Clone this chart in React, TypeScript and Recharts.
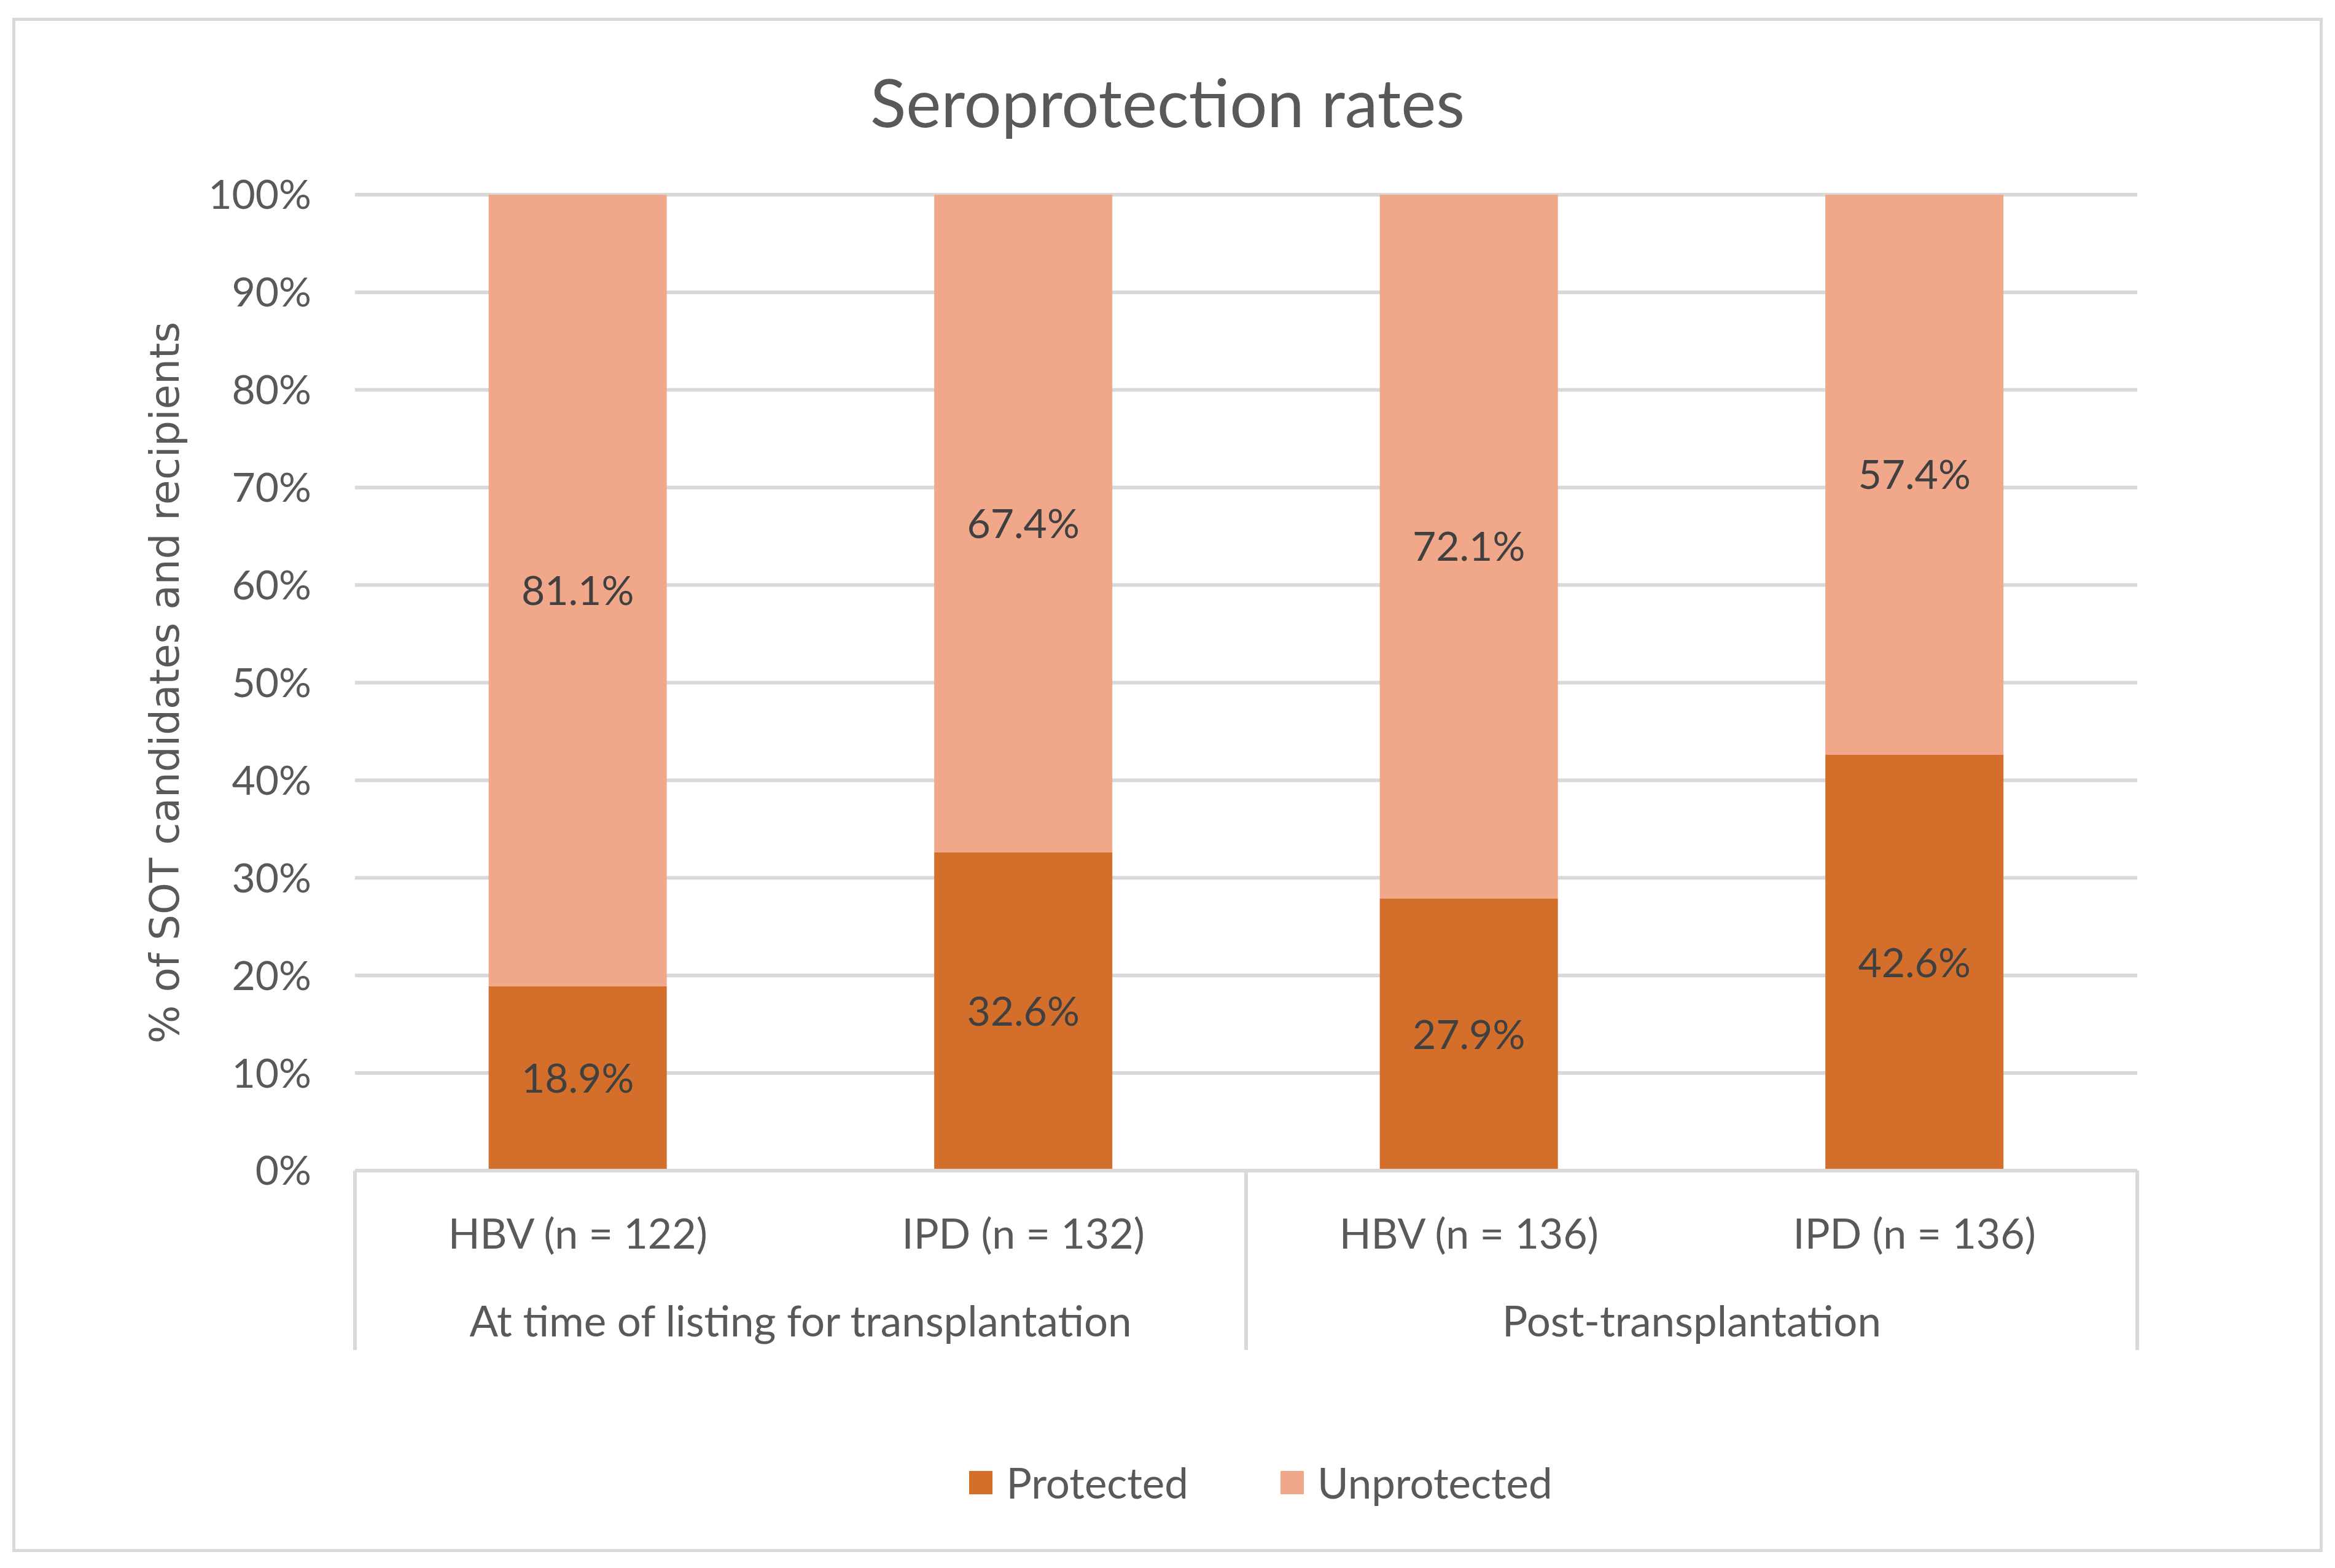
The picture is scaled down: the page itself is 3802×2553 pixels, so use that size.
import React from 'react';
import { BarChart, Bar, XAxis, YAxis, CartesianGrid, Legend, LabelList } from 'recharts';

document.body.style.margin = '0';

const categories = ['HBV (n = 122)', 'IPD (n = 132)', 'HBV (n = 136)', 'IPD (n = 136)'];
const groups = [
  'At time of listing for transplantation',
  'At time of listing for transplantation',
  'Post-transplantation',
  'Post-transplantation',
];
const protectedRates = [18.9, 32.6, 27.9, 42.6];
const unprotectedRates = [81.1, 67.4, 72.1, 57.4];
const yTicks = [0, 10, 20, 30, 40, 50, 60, 70, 80, 90, 100];

const data = categories.map((category, i) => ({
  category,
  group: groups[i],
  Protected: protectedRates[i],
  Unprotected: unprotectedRates[i],
}));

const W = 3802;
const H = 2553;
const GRID = '#d9d9d9';
const TEXT = '#595959';
const FONT = 'Lato, "Open Sans", sans-serif';
const COLORS = { Protected: '#d36f2b', Unprotected: '#f1a88a' };
const X_AXIS_H = 292;

const CategoryTick = (props: any) => {
  const { x, y, payload } = props;
  const i = payload.index ?? props.index;
  const half = payload.offset ?? 362.75;
  const lines: number[] = [];
  if (i === 0) lines.push(x - half);
  if (i % 2 === 1) lines.push(x + half);
  return (
    <g>
      <text x={x} y={y + 100} textAnchor="middle" dominantBaseline="central" fill={TEXT} fontSize={68} fontFamily={FONT}>
        {payload.value}
      </text>
      {i % 2 === 0 && (
        <text x={x + half} y={y + 243} textAnchor="middle" dominantBaseline="central" fill={TEXT} fontSize={69} fontFamily={FONT}>
          {groups[i]}
        </text>
      )}
      {lines.map((lx) => (
        <line key={lx} x1={lx} x2={lx} y1={y} y2={y + X_AXIS_H} stroke={GRID} strokeWidth={6} />
      ))}
    </g>
  );
};

const YLabel = (props: any) => {
  const { viewBox } = props;
  const cx = 268;
  const cy = viewBox.y + viewBox.height / 2;
  return (
    <text
      x={cx}
      y={cy}
      transform={`rotate(-90, ${cx}, ${cy})`}
      textAnchor="middle"
      dominantBaseline="central"
      fill={TEXT}
      fontSize={66}
      fontFamily='"DejaVu Sans", Verdana, sans-serif'
    >
      % of SOT candidates and recipients
    </text>
  );
};

const LegendContent = (props: any) => {
  const { payload } = props;
  return (
    <div style={{ display: 'flex', justifyContent: 'center', gap: 150, paddingLeft: 48 }}>
      {(payload || []).map((entry: any) => (
        <div key={entry.value} style={{ display: 'flex', alignItems: 'center' }}>
          <span style={{ width: 38, height: 38, background: entry.color, marginRight: 22, display: 'inline-block' }} />
          <span style={{ color: TEXT, fontSize: 69, fontFamily: FONT, lineHeight: '80px' }}>{entry.value}</span>
        </div>
      ))}
    </div>
  );
};

export default function App() {
  return (
    <div style={{ position: 'relative', width: W, height: H, background: '#fff', overflow: 'hidden' }}>
      <div
        style={{
          position: 'absolute',
          left: 20,
          top: 29,
          width: 3752,
          height: 2488,
          border: `5px solid ${GRID}`,
        }}
      />
      <div
        style={{
          position: 'absolute',
          left: 0,
          width: W,
          top: 100,
          textAlign: 'center',
          color: TEXT,
          fontSize: 108,
          fontFamily: FONT,
          lineHeight: '130px',
        }}
      >
        Seroprotection rates
      </div>
      <BarChart
        width={W}
        height={H}
        data={data}
        margin={{ top: 317, right: 322, bottom: 355, left: 200 }}
        barCategoryGap="30%"
        style={{ position: 'absolute', left: 0, top: 0 }}
      >
        <CartesianGrid vertical={false} stroke={GRID} strokeWidth={6} />
        <XAxis
          dataKey="category"
          interval={0}
          height={X_AXIS_H}
          axisLine={{ stroke: GRID, strokeWidth: 6 }}
          tickLine={false}
          tickSize={0}
          tickMargin={0}
          tick={<CategoryTick />}
        />
        <YAxis
          domain={[0, 100]}
          ticks={yTicks}
          width={378}
          axisLine={false}
          tickLine={false}
          tickSize={0}
          tickMargin={71}
          tickFormatter={(v: number) => `${v}%`}
          tick={{ fill: TEXT, fontSize: 66, fontFamily: FONT }}
          label={<YLabel />}
        />
        <Legend
          verticalAlign="middle"
          layout="horizontal"
          content={<LegendContent />}
          wrapperStyle={{ left: 578, width: 2902, top: 2374 }}
        />
        <Bar dataKey="Protected" stackId="a" fill={COLORS.Protected} isAnimationActive={false}>
          <LabelList
            dataKey="Protected"
            position="center"
            fill="#404040"
            fontSize={66}
            fontFamily={FONT}
            formatter={(v: any) => `${Number(v).toFixed(1)}%`}
          />
        </Bar>
        <Bar dataKey="Unprotected" stackId="a" fill={COLORS.Unprotected} isAnimationActive={false}>
          <LabelList
            dataKey="Unprotected"
            position="center"
            fill="#404040"
            fontSize={66}
            fontFamily={FONT}
            formatter={(v: any) => `${Number(v).toFixed(1)}%`}
          />
        </Bar>
      </BarChart>
    </div>
  );
}
